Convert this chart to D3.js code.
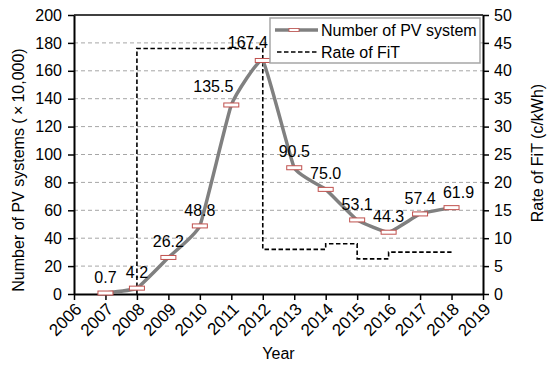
<!DOCTYPE html>
<head>
	<meta charset="utf-8">
	<script src="https://d3js.org/d3.v7.min.js"></script>
	<style>
		body { margin: 0; background: #fff; }
		text { font-family: Arial, "Liberation Sans", sans-serif; fill: #000; }
	</style>
</head>
<body>
	<svg id="chart" width="550" height="372"></svg>
	<script>

	// data
	var years = [2007, 2008, 2009, 2010, 2011, 2012, 2013, 2014, 2015, 2016, 2017, 2018];
	var pvCount = [0.7, 4.2, 26.2, 48.8, 135.5, 167.4, 90.5, 75.0, 53.1, 44.3, 57.4, 61.9];
	var fitYears = [2008, 2008, 2012, 2014, 2015, 2016, 2018];
	var fitRate = [0, 44, 8, 9, 6.3, 7.5, 7.5];
	var xTicks = d3.range(2006, 2020);
	var leftTicks = [0, 20, 40, 60, 80, 100, 120, 140, 160, 180, 200];
	var rightTicks = [0, 5, 10, 15, 20, 25, 30, 35, 40, 45, 50];

	// label nudges (px) for the few labels that are not centred above their marker
	var labelNudge = { 2011: [-18, -3], 2012: [-15, -2], 2018: [7, 1] };

	var svg = d3.select("#chart");
	var plotL = 74, plotR = 483, plotT = 15, plotB = 294;
	var fs = "16px";

	var x = d3.scaleLinear().domain([2006, 2019]).range([plotL, plotR]);
	var y = d3.scaleLinear().domain([0, 200]).range([plotB, plotT]);
	var y2 = d3.scaleLinear().domain([0, 50]).range([plotB, plotT]);

	// grid
	svg.append("g")
		.selectAll("line")
		.data(leftTicks.slice(1, -1))
		.enter()
		.append("line")
		.attr("x1", plotL).attr("x2", plotR)
		.attr("y1", function(d) { return y(d); })
		.attr("y2", function(d) { return y(d); })
		.attr("stroke", "#a6a6a6")
		.attr("stroke-width", 1)
		.attr("stroke-dasharray", "4,3");

	// top border
	svg.append("line")
		.attr("x1", plotL).attr("x2", plotR)
		.attr("y1", plotT).attr("y2", plotT)
		.attr("stroke", "#000").attr("stroke-width", 1.5);

	// axes
	var xAxis = svg.append("g")
		.attr("transform", "translate(0," + plotB + ")")
		.call(d3.axisBottom(x).tickValues(xTicks).tickFormat(d3.format("d")).tickSize(6).tickSizeOuter(0));
	xAxis.selectAll("text")
		.attr("text-anchor", "end")
		.attr("transform", "translate(4,12) rotate(-45)")
		.attr("dy", "0.35em")
		.attr("y", 0).attr("x", 0)
		.style("font-size", "17px");

	var yAxis = svg.append("g")
		.attr("transform", "translate(" + plotL + ",0)")
		.call(d3.axisLeft(y).tickValues(leftTicks).tickSize(6).tickSizeOuter(0));

	var y2Axis = svg.append("g")
		.attr("transform", "translate(" + plotR + ",0)")
		.call(d3.axisRight(y2).tickValues(rightTicks).tickSize(6).tickSizeOuter(0));

	[yAxis, y2Axis].forEach(function(a) {
		a.selectAll("text").style("font-size", fs);
	});
	[xAxis, yAxis, y2Axis].forEach(function(a) {
		a.select(".domain").attr("stroke", "#000").attr("stroke-width", 2);
		a.selectAll(".tick line").attr("stroke", "#000").attr("stroke-width", 1.5);
		a.selectAll("text").attr("fill", "#000");
	});
	yAxis.selectAll("text").attr("x", -12);
	y2Axis.selectAll("text").attr("x", 11);

	// FiT step line
	var fit = fitYears.map(function(d, i) { return [d, fitRate[i]]; });
	svg.append("path")
		.datum(fit)
		.attr("fill", "none")
		.attr("stroke", "#000")
		.attr("stroke-width", 1.6)
		.attr("stroke-dasharray", "4.5,2.5")
		.attr("d", d3.line()
			.x(function(d) { return x(d[0]); })
			.y(function(d) { return y2(d[1]); })
			.curve(d3.curveStepAfter));

	// PV line
	var pv = years.map(function(d, i) { return [d, pvCount[i]]; });
	svg.append("path")
		.datum(pv)
		.attr("fill", "none")
		.attr("stroke", "#808080")
		.attr("stroke-width", 3.5)
		.attr("d", d3.line()
			.x(function(d) { return x(d[0]); })
			.y(function(d) { return y(d[1]); })
			.curve(d3.curveCardinal.tension(0.65)));

	// markers
	svg.append("g")
		.selectAll("rect")
		.data(pv)
		.enter()
		.append("rect")
		.attr("x", function(d) { return x(d[0]) - 7.5; })
		.attr("y", function(d) { return y(d[1]) - 2; })
		.attr("width", 15)
		.attr("height", 4)
		.attr("fill", "#fff")
		.attr("stroke", "#c0504d")
		.attr("stroke-width", 1);

	// value labels
	svg.append("g")
		.selectAll("text")
		.data(pv)
		.enter()
		.append("text")
		.attr("x", function(d) { return x(d[0]) + (labelNudge[d[0]] ? labelNudge[d[0]][0] : 0); })
		.attr("y", function(d) { return y(d[1]) - 16 + (labelNudge[d[0]] ? labelNudge[d[0]][1] : 0); })
		.attr("dy", "0.35em")
		.attr("text-anchor", "middle")
		.style("font-size", fs)
		.text(function(d) { return d[1].toFixed(1); });

	// axis titles
	svg.append("text")
		.attr("transform", "translate(18,170) rotate(-90)")
		.attr("text-anchor", "middle")
		.attr("dy", "0.35em")
		.style("font-size", fs)
		.text("Number of PV systems (\u2009\u00d7\u200910,000)");

	svg.append("text")
		.attr("transform", "translate(537,153) rotate(-90)")
		.attr("text-anchor", "middle")
		.attr("dy", "0.35em")
		.style("font-size", fs)
		.text("Rate of FiT (c/kWh)");

	svg.append("text")
		.attr("x", (plotL + plotR) / 2)
		.attr("y", 359)
		.attr("text-anchor", "middle")
		.style("font-size", fs)
		.text("Year");

	// legend
	var lg = svg.append("g").attr("transform", "translate(270,18)");
	lg.append("rect")
		.attr("width", 210).attr("height", 45)
		.attr("fill", "#fff")
		.attr("stroke", "#a6a6a6").attr("stroke-width", 1.5);
	lg.append("line")
		.attr("x1", 5).attr("x2", 48).attr("y1", 12).attr("y2", 12)
		.attr("stroke", "#808080").attr("stroke-width", 3.5);
	lg.append("rect")
		.attr("x", 19).attr("y", 10.5).attr("width", 10).attr("height", 3)
		.attr("fill", "#fff").attr("stroke", "#c0504d").attr("stroke-width", 0.8);
	lg.append("line")
		.attr("x1", 7).attr("x2", 48).attr("y1", 34).attr("y2", 34)
		.attr("stroke", "#000").attr("stroke-width", 1.6)
		.attr("stroke-dasharray", "4.5,2.5");
	lg.append("text").attr("x", 51).attr("y", 12).attr("dy", "0.35em")
		.style("font-size", fs).text("Number of PV system");
	lg.append("text").attr("x", 51).attr("y", 34).attr("dy", "0.35em")
		.style("font-size", fs).text("Rate of FiT");

</script>
</body>
</html>
